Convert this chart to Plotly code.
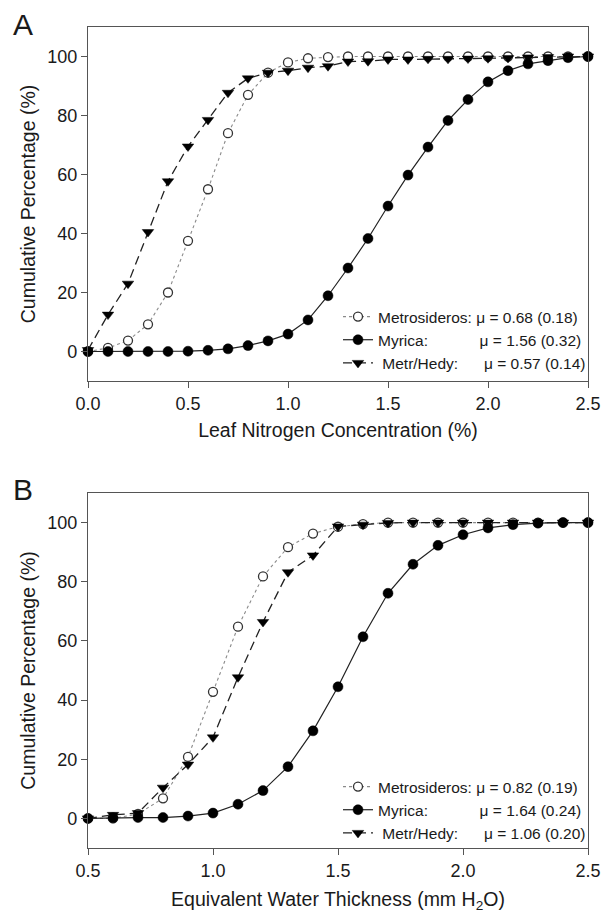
import plotly.graph_objects as go

# ---------------- Data ----------------
# Panel A: Leaf nitrogen concentration (%)
xA = [0.0, 0.1, 0.2, 0.3, 0.4, 0.5, 0.6, 0.7, 0.8, 0.9, 1.0, 1.1, 1.2, 1.3,
      1.4, 1.5, 1.6, 1.7, 1.8, 1.9, 2.0, 2.1, 2.2, 2.3, 2.4, 2.5]
metroA = [0, 1.2, 3.7, 9.2, 20, 37.5, 55, 74, 87, 94.5, 98, 99.4, 99.8, 100,
          100, 100, 100, 100, 100, 100, 100, 100, 100, 100, 100, 100]
myricaA = [0, 0, 0, 0, 0, 0.1, 0.4, 0.9, 2.0, 3.6, 5.9, 10.7, 18.9, 28.3,
           38.3, 49.3, 59.8, 69.3, 78.3, 85.4, 91.4, 95.2, 97.5, 98.6, 99.6, 100]
hedyA = [0.5, 12.5, 23, 40.5, 57.7, 69.5, 78.5, 87.7, 92.6, 94.5, 95.2, 96.2,
         96.7, 98.3, 98.4, 99, 99, 99.2, 99.2, 99.3, 99.4, 99.5, 99.7, 99.8, 100, 100]

# Panel B: Equivalent water thickness (mm H2O)
xB = [0.5, 0.6, 0.7, 0.8, 0.9, 1.0, 1.1, 1.2, 1.3, 1.4, 1.5, 1.6, 1.7, 1.8,
      1.9, 2.0, 2.1, 2.2, 2.3, 2.4, 2.5]
metroB = [0, 0, 1.5, 6.8, 20.8, 42.8, 64.8, 81.8, 91.7, 96.3, 98.6, 99.5, 100,
          100, 100, 100, 100, 100, 100, 100, 100]
myricaB = [0, 0.2, 0.3, 0.3, 0.8, 1.8, 4.8, 9.4, 17.5, 29.6, 44.5, 61.4, 76.1,
           85.9, 92.3, 95.9, 98.2, 99.3, 99.8, 100, 100]
hedyB = [0, 1.2, 1.8, 10.4, 18.2, 27.4, 47.7, 66.4, 83.2, 88.9, 98.7, 99.3,
         99.9, 100, 100, 100, 100, 100, 100, 100, 100]

NB = "\u00a0"
namesA = ["Metrosideros: \u03bc = 0.68 (0.18)",
          "Myrica:" + NB * 11 + " \u03bc = 1.56 (0.32)",
          NB + "Metr/Hedy:" + NB * 5 + " \u03bc = 0.57 (0.14)"]
namesB = ["Metrosideros: \u03bc = 0.82 (0.19)",
          "Myrica:" + NB * 11 + " \u03bc = 1.64 (0.24)",
          NB + "Metr/Hedy:" + NB * 5 + " \u03bc = 1.06 (0.20)"]

xticksA = [0.0, 0.5, 1.0, 1.5, 2.0, 2.5]
xticksB = [0.5, 1.0, 1.5, 2.0, 2.5]
yticks = [0, 20, 40, 60, 80, 100]

# ---------------- Styles ----------------
FONT = "Liberation Sans, Arial, sans-serif"
TXT = "#1a1a1a"
AX = "#555555"

styles = [
    dict(mode="lines+markers",
         line=dict(color="#8a8a8a", width=1.1, dash="dot"),
         marker=dict(symbol="circle", size=9, color="white",
                     line=dict(color="#333333", width=1.3))),
    dict(mode="lines+markers",
         line=dict(color="#222222", width=1.2, dash="solid"),
         marker=dict(symbol="circle", size=10, color="black",
                     line=dict(color="black", width=0.5))),
    dict(mode="lines+markers",
         line=dict(color="#222222", width=1.3, dash="9px,5px"),
         marker=dict(symbol="triangle-down", size=10, color="black",
                     line=dict(color="black", width=0.5))),
]

fig = go.Figure()
for ys, nm, st in zip([metroA, myricaA, hedyA], namesA, styles):
    fig.add_trace(go.Scatter(x=xA, y=ys, name=nm, xaxis="x", yaxis="y",
                             legend="legend", cliponaxis=False, **st))
for ys, nm, st in zip([metroB, myricaB, hedyB], namesB, styles):
    fig.add_trace(go.Scatter(x=xB, y=ys, name=nm, xaxis="x2", yaxis="y2",
                             legend="legend2", cliponaxis=False, **st))

axis_common = dict(showline=True, linecolor=AX, linewidth=1.2, mirror=True,
                   ticks="outside", ticklen=6, tickcolor=AX, tickwidth=1.2,
                   showgrid=False, zeroline=False,
                   tickfont=dict(family=FONT, size=18, color=TXT))

L, R, T, B = 88, 15, 27, 71
W, H = 613, 919
plot_h = H - T - B
plot_w = W - L - R


def ypaper(px):
    return (H - B - px) / plot_h


def xpaper(px):
    return (px - L) / plot_w


domA = [ypaper(381), 1.0]
domB = [0.0, ypaper(493)]
TFS = 19.5
LFS = 15.5

fig.update_layout(
    width=W, height=H,
    margin=dict(l=L, r=R, t=T, b=B),
    paper_bgcolor="white", plot_bgcolor="white",
    font=dict(family=FONT, color=TXT),
    xaxis=dict(range=[0, 2.5], tickvals=xticksA,
               ticktext=[f"{v:.1f}" for v in xticksA], anchor="y",
               title=dict(text="Leaf Nitrogen Concentration (%)",
                          font=dict(family=FONT, size=TFS, color=TXT), standoff=10),
               **axis_common),
    yaxis=dict(range=[-10, 110], tickvals=yticks, domain=domA, anchor="x",
               title=dict(text="Cumulative Percentage (%)",
                          font=dict(family=FONT, size=TFS, color=TXT), standoff=6),
               **axis_common),
    xaxis2=dict(range=[0.5, 2.5], tickvals=xticksB,
                ticktext=[f"{v:.1f}" for v in xticksB], anchor="y2",
                title=dict(text="Equivalent Water Thickness (mm H<sub>2</sub>O)",
                           font=dict(family=FONT, size=TFS, color=TXT), standoff=12),
                **axis_common),
    yaxis2=dict(range=[-10, 110], tickvals=yticks, domain=domB, anchor="x2",
                title=dict(text="Cumulative Percentage (%)",
                           font=dict(family=FONT, size=TFS, color=TXT), standoff=6),
                **axis_common),
    legend=dict(x=1.006, xanchor="right", y=ypaper(380), yanchor="bottom",
                bgcolor="rgba(0,0,0,0)", font=dict(family=FONT, size=LFS, color=TXT),
                tracegroupgap=0, itemwidth=30),
    legend2=dict(x=1.006, xanchor="right", y=ypaper(850), yanchor="bottom",
                 bgcolor="rgba(0,0,0,0)", font=dict(family=FONT, size=LFS, color=TXT),
                 tracegroupgap=0, itemwidth=30),
    annotations=[
        dict(text="A", x=xpaper(22), y=ypaper(25), xref="paper", yref="paper",
             showarrow=False, xanchor="center", yanchor="middle",
             font=dict(family=FONT, size=30, color=TXT)),
        dict(text="B", x=xpaper(22), y=ypaper(489), xref="paper", yref="paper",
             showarrow=False, xanchor="center", yanchor="middle",
             font=dict(family=FONT, size=30, color=TXT)),
    ],
)

fig.write_html("out.html",
               config={"displayModeBar": False},
               post_script="document.body.style.margin='0';"
                           "document.body.style.overflow='hidden';")
